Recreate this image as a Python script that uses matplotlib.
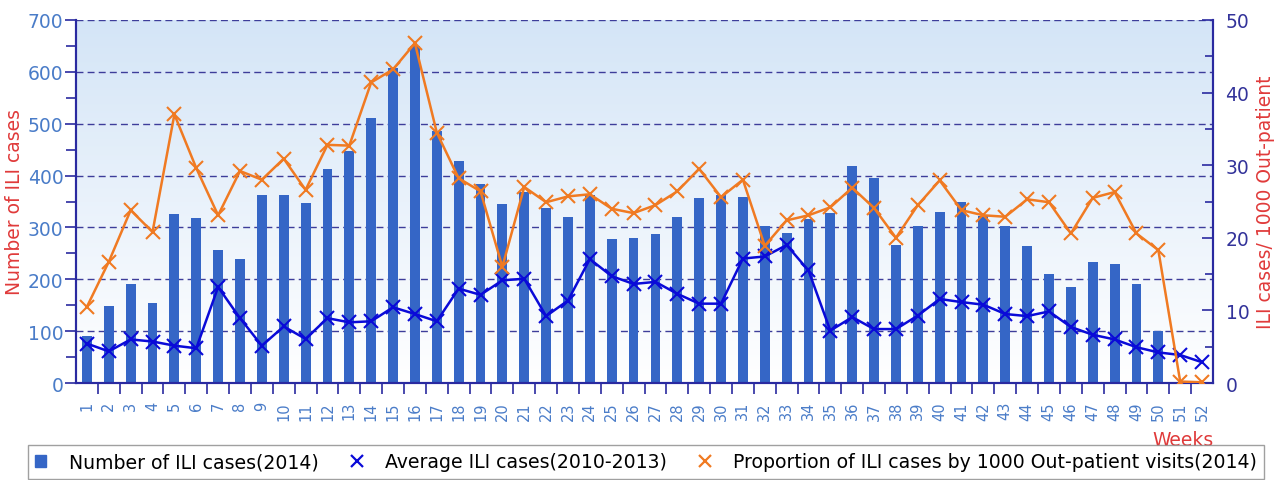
import numpy as np
import matplotlib
matplotlib.use("Agg")
import matplotlib.pyplot as plt
from matplotlib.lines import Line2D
from matplotlib.patches import Patch
from matplotlib.colors import LinearSegmentedColormap

weeks = list(range(1, 53))
week_labels = [str(w) for w in weeks]

cases_2014 = [90, 148, 191, 155, 325, 318, 256, 240, 362, 362, 348, 412, 448, 511,
              607, 649, 485, 429, 383, 346, 369, 337, 320, 362, 277, 280, 287, 320,
              356, 362, 359, 302, 290, 317, 327, 419, 396, 267, 302, 330, 349, 322,
              302, 264, 211, 185, 233, 230, 191, 101, 0, 0]

avg_2010_2013 = [76, 61, 84, 80, 72, 67, 185, 125, 72, 109, 85, 125, 117, 119,
                 146, 133, 119, 182, 170, 198, 201, 129, 159, 239, 206, 191, 195, 172,
                 153, 153, 240, 244, 266, 217, 101, 127, 104, 104, 130, 162, 156, 151,
                 133, 129, 138, 108, 93, 84, 69, 59, 54, 40]

proportion_2014 = [10.5, 16.7, 23.8, 20.8, 37.0, 29.6, 23.1, 29.2, 28.0, 30.9, 26.6, 32.8,
                   32.7, 41.4, 43.2, 46.8, 34.5, 28.2, 26.4, 16.0, 27.0, 24.9, 25.7, 26.0,
                   24.0, 23.4, 24.5, 26.4, 29.5, 25.6, 28.0, 18.9, 22.4, 23.1, 24.2, 26.9,
                   24.1, 20.0, 24.5, 27.9, 23.8, 23.1, 22.9, 25.3, 24.9, 20.6, 25.5, 26.3,
                   20.6, 18.3, 0.2, 0.1]

BAR = "#3566c6"
BLUE = "#0a0ad8"
ORANGE = "#f07a22"
AXC = "#2a2aa0"
LBL_LEFT = "#4a7cc8"
LBL_RIGHT = "#33339a"
RED = "#e03a3a"

plt.rcParams['font.family'] = ['DejaVu Sans']

fig = plt.figure(figsize=(12.78, 4.81), dpi=100)
ax = fig.add_axes([76/1278, 1 - 384/481, (1213-76)/1278, (384-21)/481])
ax2 = ax.twinx()

# gradient background
grad = np.linspace(0, 1, 256).reshape(-1, 1)
cmap = LinearSegmentedColormap.from_list("bg", ["#ffffff", "#d4e5f7"])
ax.imshow(grad, aspect='auto', cmap=cmap, origin='lower',
          extent=[0.5, 52.5, 0, 700], zorder=0)

ax.bar(weeks, cases_2014, width=0.45, color=BAR, zorder=2)
ax.plot(weeks, avg_2010_2013, color=BLUE, lw=1.8, marker='x', ms=10, mew=1.5, zorder=4)
ax2.plot(weeks, proportion_2014, color=ORANGE, lw=1.8, marker='x', ms=10, mew=1.5, zorder=4)

ax.set_xlim(0.5, 52.5)
ax.set_ylim(0, 700)
ax2.set_ylim(0, 50)

ax.set_yticks(range(0, 701, 100))
ax.set_yticks(range(50, 700, 100), minor=True)
ax2.set_yticks(range(0, 51, 10))
ax2.set_yticks(range(5, 50, 10), minor=True)

ax.set_xticks(weeks)
ax.set_xticklabels(week_labels, rotation=90, color=LBL_LEFT, fontsize=10.5)
ax.set_xticks(np.arange(1.5, 52.5, 1), minor=True)
ax.tick_params(axis='x', which='major', length=0, pad=13)
ax.tick_params(axis='x', which='minor', length=8, width=1.2, color=AXC, direction='out')

ax.tick_params(axis='y', which='major', length=8, width=1.2, color=AXC, direction='out',
               labelcolor=LBL_LEFT, labelsize=13.5, pad=1)
ax.tick_params(axis='y', which='minor', length=7, width=1.2, color=AXC, direction='out')
ax2.tick_params(axis='y', which='major', length=8, width=1.2, color=AXC, direction='in',
                labelcolor=LBL_RIGHT, labelsize=13.5, pad=9)
ax2.tick_params(axis='y', which='minor', length=6, width=1.2, color=AXC, direction='in')

ax.yaxis.grid(True, linestyle=(0, (5, 3)), color="#3d3d9a", lw=1.0)
ax.set_axisbelow(True)
for a in (ax, ax2):
    a.spines['top'].set_visible(False)
    for s in ('left', 'right', 'bottom'):
        a.spines[s].set_color(AXC)
        a.spines[s].set_linewidth(1.5)

ax.set_zorder(1)
ax2.set_zorder(2)
ax2.patch.set_visible(False)

ax.set_ylabel("Number of ILI cases", color=RED, fontsize=13.5, labelpad=3)
ax2.set_ylabel("ILI cases/ 1000 Out-patient", color=RED, fontsize=13.5, labelpad=5)
fig.text(1183/1278, 1 - 440/481, "Weeks", color=RED, fontsize=13.5, ha='center', va='center')

handles = [
    Patch(facecolor=BAR, edgecolor=BAR),
    Line2D([], [], color=BLUE, marker='x', ms=9, mew=1.6, lw=0),
    Line2D([], [], color=ORANGE, marker='x', ms=9, mew=1.6, lw=0),
]
labels = ["Number of ILI cases(2014)", "Average ILI cases(2010-2013)",
          "Proportion of ILI cases by 1000 Out-patient visits(2014)"]
leg = fig.legend(handles, labels, loc='center', bbox_to_anchor=(646/1278, 1 - 463/481),
                 ncol=3, frameon=True, fancybox=False, edgecolor="#888888",
                 fontsize=13.6, handlelength=0.6, handleheight=0.6, columnspacing=1.7,
                 handletextpad=1.2, borderpad=0.4, borderaxespad=0)
leg.get_frame().set_linewidth(1.0)

fig.savefig("out.png", dpi=100)
